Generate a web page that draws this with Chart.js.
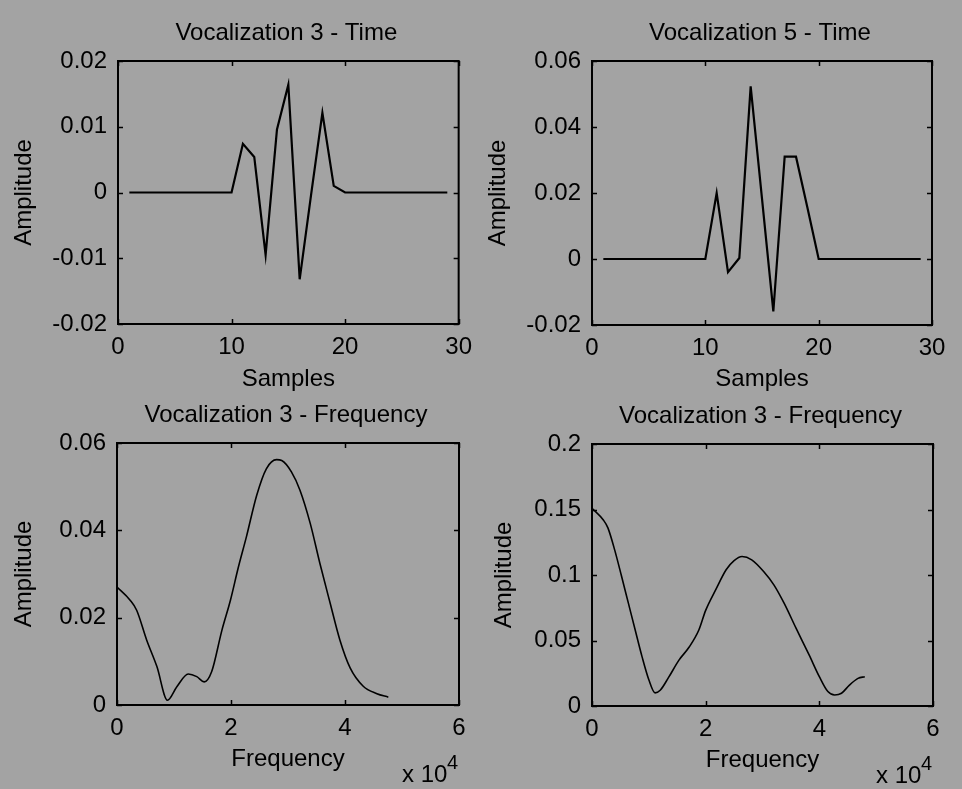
<!DOCTYPE html>
<html>
<head>
<meta charset="utf-8">
<script src="https://cdn.jsdelivr.net/npm/chart.js@4/dist/chart.umd.min.js"></script>
<style>
    html, body { margin: 0; padding: 0; }
    body { width: 962px; height: 789px; background: #a3a3a3; position: relative; overflow: hidden; }
    .panel { position: absolute; }
    .panel canvas { display: block; }
</style>
</head>
<body>
<div class="panel" style="left:0;top:0;width:481px;height:395px"><canvas id="c1"></canvas></div>
<div class="panel" style="left:481px;top:0;width:481px;height:395px"><canvas id="c2"></canvas></div>
<div class="panel" style="left:0;top:395px;width:481px;height:394px"><canvas id="c3"></canvas></div>
<div class="panel" style="left:481px;top:395px;width:481px;height:394px"><canvas id="c4"></canvas></div>
<script>
/* ── Data ──────────────────────────────────────────────── */
const samples = [1, 2, 3, 4, 5, 6, 7, 8, 9, 10, 11, 12, 13, 14, 15, 16, 17, 18, 19, 20,
    21, 22, 23, 24, 25, 26, 27, 28, 29];

const voc3Time = [0, 0, 0, 0, 0, 0, 0, 0, 0, 0, 0.0074, 0.0054, -0.0095, 0.0096, 0.0164,
    -0.0132, -0.0004, 0.0121, 0.001, 0, 0, 0, 0, 0, 0, 0, 0, 0, 0];

const voc5Time = [0, 0, 0, 0, 0, 0, 0, 0, 0, 0, 0.020, -0.004, 0.0003, 0.0523, 0.0183,
    -0.0159, 0.031, 0.031, 0.0157, 0, 0, 0, 0, 0, 0, 0, 0, 0, 0];

// frequency axis in Hz, spectra magnitudes
const freqA = [0, 2300, 3450, 5200, 7000, 8850, 10500, 12500, 14000, 15300, 16600, 18400,
    19900, 21300, 22700, 24500, 26200, 28000, 28900, 30600, 32100, 33900, 35600, 37400,
    39100, 40900, 43200, 45600, 47600];
const voc3Freq = [0.0270, 0.0240, 0.0217, 0.0149, 0.0088, 0.0011, 0.0042, 0.0071, 0.0065,
    0.0053, 0.0076, 0.0171, 0.0240, 0.0316, 0.0385, 0.0480, 0.0541, 0.0562, 0.0560, 0.0534,
    0.0492, 0.0416, 0.0324, 0.0233, 0.0149, 0.0085, 0.0043, 0.0026, 0.0018];

const freqB = [0, 2000, 2800, 4000, 5200, 6400, 7600, 8800, 10000, 11100, 12000, 13500,
    15300, 17100, 18800, 20000, 21800, 23600, 25000, 26400, 28100, 30200, 32000, 33800,
    35900, 38200, 40000, 41500, 42700, 43900, 45300, 46800, 48000];
const voc3FreqB = [0.151, 0.142, 0.136, 0.119, 0.099, 0.0785, 0.058, 0.0377, 0.020, 0.010,
    0.012, 0.022, 0.035, 0.045, 0.058, 0.073, 0.089, 0.104, 0.111, 0.1141, 0.1116, 0.1027,
    0.0925, 0.0785, 0.0594, 0.039, 0.0224, 0.011, 0.0084, 0.0097, 0.016, 0.0211, 0.0224];

const FONT = 'Liberation Sans, Arial, sans-serif';

/* ── Box, inward ticks, title and exponent ─────────────── */
const matlabAxes = {
    id: 'matlabAxes',
    afterDraw(chart, args, opts) {
        const { ctx, chartArea: a, scales } = chart;
        const tl = 5;
        ctx.save();
        ctx.strokeStyle = '#000';
        ctx.lineWidth = 1.5;
        ctx.beginPath();
        scales.x.ticks.forEach(t => {
            const px = Math.round(scales.x.getPixelForValue(t.value)) + 0.5;
            ctx.moveTo(px, a.bottom); ctx.lineTo(px, a.bottom - tl);
            ctx.moveTo(px, a.top); ctx.lineTo(px, a.top + tl);
        });
        scales.y.ticks.forEach(t => {
            const py = Math.round(scales.y.getPixelForValue(t.value)) + 0.5;
            ctx.moveTo(a.left, py); ctx.lineTo(a.left + tl, py);
            ctx.moveTo(a.right, py); ctx.lineTo(a.right - tl, py);
        });
        ctx.stroke();
        ctx.lineWidth = 2;
        ctx.strokeRect(a.left, a.top, a.right - a.left, a.bottom - a.top);

        ctx.fillStyle = '#000';
        ctx.font = `24px ${FONT}`;
        ctx.textAlign = 'center';
        ctx.textBaseline = 'alphabetic';
        ctx.fillText(opts.title, (a.left + a.right) / 2 - 2, opts.titleY);

        if (opts.exponent) {
            ctx.textAlign = 'left';
            ctx.fillText('x 10', a.right - 57, a.bottom + 77);
            ctx.font = `20px ${FONT}`;
            ctx.fillText('4', a.right - 12, a.bottom + 64);
        }
        ctx.restore();
    }
};

const tickFmt = v => String(+v.toFixed(4));

function makePlot(id, cfg) {
    const el = document.getElementById(id);
    const W = 481, H = cfg.height;
    el.width = W; el.height = H;
    el.style.width = W + 'px'; el.style.height = H + 'px';
    const area = cfg.area;

    return new Chart(el, {
        type: 'line',
        data: {
            datasets: [{
                data: cfg.xs.map((x, i) => ({ x, y: cfg.ys[i] })),
                borderColor: '#000',
                borderWidth: cfg.lineWidth,
                pointRadius: 0,
                tension: 0,
                cubicInterpolationMode: cfg.smooth ? 'monotone' : 'default',
                fill: false,
            }]
        },
        options: {
            responsive: false,
            animation: false,
            devicePixelRatio: 1,
            layout: { padding: { left: 0, top: area.top, right: W - area.right, bottom: 0 } },
            plugins: {
                legend: { display: false },
                tooltip: { enabled: false },
                matlabAxes: { title: cfg.title, titleY: cfg.titleY, exponent: cfg.exponent },
            },
            scales: {
                x: {
                    type: 'linear',
                    min: cfg.xMin, max: cfg.xMax,
                    afterFit: s => { s.height = H - area.bottom; },
                    grid: { display: false, drawTicks: false },
                    border: { display: false },
                    ticks: {
                        stepSize: cfg.xStep,
                        padding: 9,
                        color: '#000',
                        font: { family: FONT, size: 24 },
                        maxRotation: 0,
                        callback: cfg.xFmt || tickFmt,
                    },
                    title: {
                        display: true, text: cfg.xLabel, color: '#000',
                        font: { family: FONT, size: 24 },
                        padding: { top: 0, bottom: cfg.xTitlePad },
                    },
                },
                y: {
                    min: cfg.yMin, max: cfg.yMax,
                    afterFit: s => { s.width = area.left; },
                    grid: { display: false, drawTicks: false },
                    border: { display: false },
                    ticks: {
                        stepSize: cfg.yStep,
                        padding: 11,
                        color: '#000',
                        font: { family: FONT, size: 24 },
                        callback: tickFmt,
                    },
                    title: {
                        display: true, text: 'Amplitude', color: '#000',
                        font: { family: FONT, size: 24 },
                        padding: { top: cfg.yTitlePad, bottom: 0 },
                    },
                },
            },
        },
        plugins: [matlabAxes],
    });
}

const freqFmt = v => String(v / 1e4);

makePlot('c1', {
    height: 395, area: { left: 118, right: 459, top: 61, bottom: 324 },
    xs: samples, ys: voc3Time, lineWidth: 2.2,
    xMin: 0, xMax: 30, xStep: 10, yMin: -0.02, yMax: 0.02, yStep: 0.01,
    title: 'Vocalization 3 - Time', titleY: 40,
    xLabel: 'Samples', xTitlePad: 1, yTitlePad: 10,
});

makePlot('c2', {
    height: 395, area: { left: 111, right: 451, top: 61, bottom: 325 },
    xs: samples, ys: voc5Time, lineWidth: 2.2,
    xMin: 0, xMax: 30, xStep: 10, yMin: -0.02, yMax: 0.06, yStep: 0.02,
    title: 'Vocalization 5 - Time', titleY: 40,
    xLabel: 'Samples', xTitlePad: 1, yTitlePad: 3,
});

makePlot('c3', {
    height: 394, area: { left: 117, right: 459, top: 48, bottom: 310 },
    xs: freqA, ys: voc3Freq, lineWidth: 1.6, smooth: true,
    xMin: 0, xMax: 60000, xStep: 20000, xFmt: freqFmt,
    yMin: 0, yMax: 0.06, yStep: 0.02,
    title: 'Vocalization 3 - Frequency', titleY: 27, exponent: true,
    xLabel: 'Frequency', xTitlePad: 15, yTitlePad: 10,
});

makePlot('c4', {
    height: 394, area: { left: 111, right: 452, top: 49, bottom: 311 },
    xs: freqB, ys: voc3FreqB, lineWidth: 1.6, smooth: true,
    xMin: 0, xMax: 60000, xStep: 20000, xFmt: freqFmt,
    yMin: 0, yMax: 0.2, yStep: 0.05,
    title: 'Vocalization 3 - Frequency', titleY: 28, exponent: true,
    xLabel: 'Frequency', xTitlePad: 14, yTitlePad: 9,
});
</script>
</body>
</html>
